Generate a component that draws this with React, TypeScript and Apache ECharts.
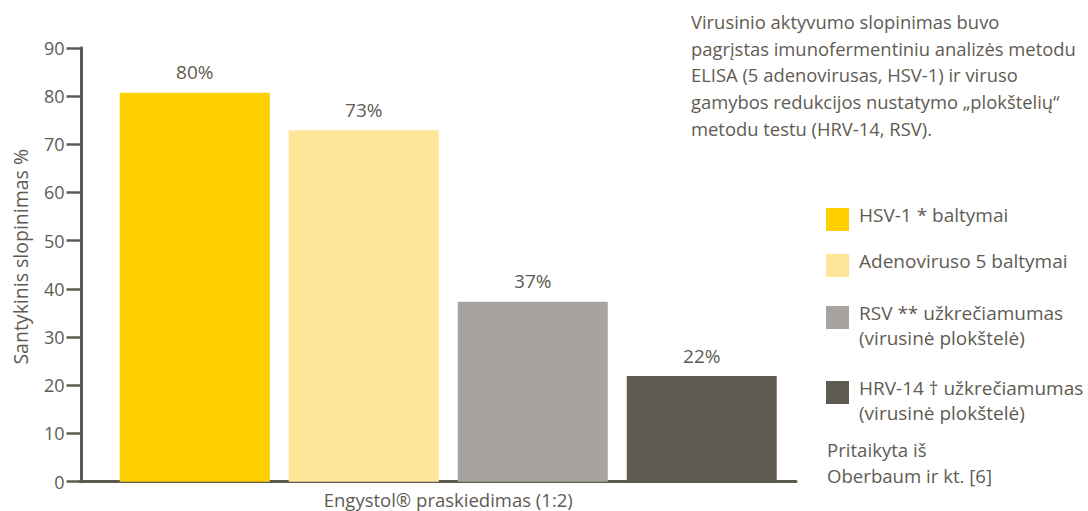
import { useEffect, useRef } from "react";
import * as echarts from "echarts";

const FONT = "Open Sans";
const TEXT_COLOR = "#5F5B53";
const AXIS_COLOR = "#5E5A52";

const categories = ["Engystol® praskiedimas (1:2)"];
const seriesNames = [
  "HSV-1 * baltymai",
  "Adenoviruso 5 baltymai",
  "RSV ** užkrečiamumas\n(virusinė plokštelė)",
  "HRV-14 † užkrečiamumas\n(virusinė plokštelė)",
];
const seriesValues = [80.7, 72.9, 37.3, 21.9];
const valueLabels = ["80%", "73%", "37%", "22%"];
const seriesColors = ["#FFCF00", "#FEE699", "#A8A39E", "#5F5B53"];
const yMin = 0;
const yMax = 90;
const yInterval = 10;
const yAxisTitle = "Santykinis slopinimas %";
const noteLines = [
  "Virusinio aktyvumo slopinimas buvo",
  "pagrįstas imunofermentiniu analizės metodu",
  "ELISA (5 adenovirusas, HSV-1) ir viruso",
  "gamybos redukcijos nustatymo „plokštelių“",
  "metodu testu (HRV-14, RSV).",
];
const sourceLines = ["Pritaikyta iš", "Oberbaum ir kt. [6]"];

export default function App() {
  const ref = useRef<HTMLDivElement>(null);
  useEffect(() => {
    if (!ref.current) return;
    const chart = echarts.init(ref.current, undefined, { renderer: "svg" });
    const legendIconTops = [208, 254, 306, 381];
    const legendElements: any[] = [];
    seriesNames.forEach((name, i) => {
      legendElements.push({
        type: "rect",
        left: 826,
        top: legendIconTops[i],
        shape: { width: 23, height: 23 },
        style: { fill: seriesColors[i] },
      });
      legendElements.push({
        type: "text",
        left: 859,
        top: legendIconTops[i] - 5.5,
        style: {
          text: name,
          fill: TEXT_COLOR,
          fontSize: 19,
          fontFamily: FONT,
          lineHeight: 25,
        },
      });
    });
    const option: any = {
      animation: false,
      backgroundColor: "#ffffff",
      textStyle: { fontFamily: FONT },
      grid: [
        { left: 80, top: 47.8, right: 273, bottom: 29.3 },
        { left: 80, top: 47.8, right: 292, bottom: 29.3 },
      ],
      xAxis: [
        {
          gridIndex: 0,
          type: "category",
          data: categories,
          axisLine: { show: false },
          axisTick: { show: false },
          axisLabel: {
            show: true,
            margin: 9,
            color: TEXT_COLOR,
            fontSize: 18.5,
            fontFamily: FONT,
            lineHeight: 18,
          },
        },
        {
          gridIndex: 1,
          type: "category",
          data: [""],
          axisLine: { show: true, lineStyle: { color: AXIS_COLOR, width: 3 } },
          axisTick: { show: false },
          axisLabel: { show: false },
        },
      ],
      yAxis: [
        {
          gridIndex: 0,
          type: "value",
          min: yMin,
          max: yMax,
          interval: yInterval,
          axisLine: { show: true, lineStyle: { color: AXIS_COLOR, width: 3 } },
          axisTick: { show: true, length: 15, lineStyle: { color: AXIS_COLOR, width: 2.5 } },
          axisLabel: { color: TEXT_COLOR, fontSize: 18, fontFamily: FONT, margin: 17 },
          splitLine: { show: false },
          name: yAxisTitle,
          nameLocation: "middle",
          nameGap: 45,
          nameTextStyle: {
            color: TEXT_COLOR,
            fontSize: 19.5,
            fontFamily: FONT,
            lineHeight: 25,
            padding: [0, 0, 0, 16],
          },
        },
        {
          gridIndex: 1,
          type: "value",
          min: yMin,
          max: yMax,
          show: false,
        },
      ],
      series: seriesNames.map((name, i) => ({
        name,
        type: "bar",
        xAxisIndex: 0,
        yAxisIndex: 0,
        data: [seriesValues[i]],
        barWidth: 150,
        barGap: "12.667%",
        itemStyle: { color: seriesColors[i] },
        label: {
          show: true,
          position: "top",
          distance: 10.5,
          formatter: () => valueLabels[i],
          color: TEXT_COLOR,
          fontSize: 19,
          fontFamily: FONT,
          lineHeight: 20,
        },
      })),
      graphic: [
        {
          type: "text",
          left: 691,
          top: 8.4,
          style: {
            text: noteLines.join("\n"),
            fill: TEXT_COLOR,
            fontSize: 18.4,
            fontFamily: FONT,
            lineHeight: 26.6,
          },
        },
        ...legendElements,
        {
          type: "text",
          left: 827,
          top: 436,
          style: {
            text: sourceLines.join("\n"),
            fill: TEXT_COLOR,
            fontSize: 18.6,
            fontFamily: FONT,
            lineHeight: 26.5,
          },
        },
      ],
    };
    chart.setOption(option);
    return () => chart.dispose();
  }, []);
  return (
    <div
      ref={ref}
      style={{ position: "fixed", left: 0, top: 0, width: 1088, height: 511 }}
    />
  );
}
